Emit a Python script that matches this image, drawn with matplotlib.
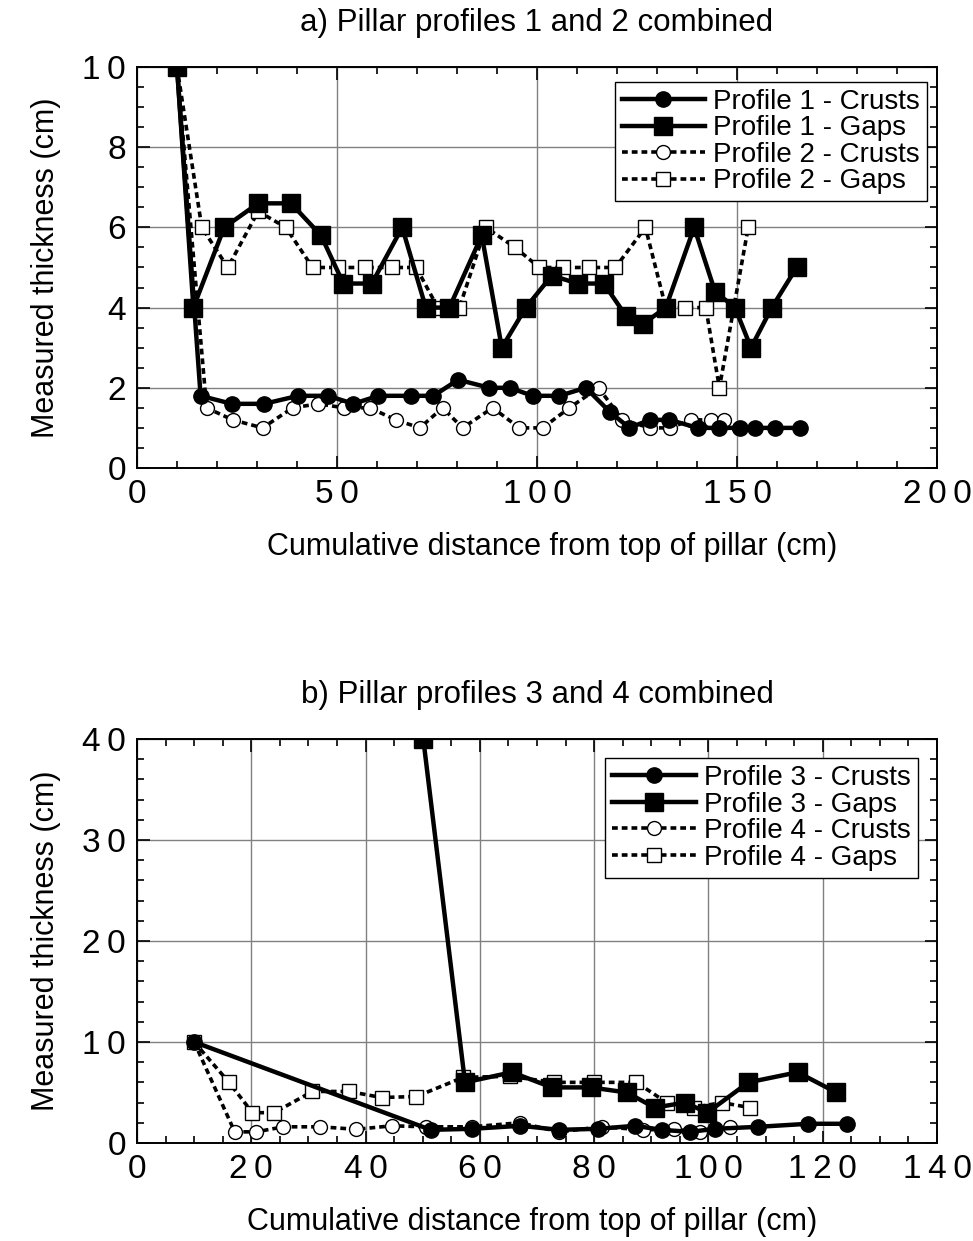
import matplotlib
matplotlib.use("Agg")
import matplotlib.pyplot as plt
from matplotlib.ticker import MultipleLocator, FuncFormatter

plt.rcParams['font.family'] = ['Liberation Sans', 'DejaVu Sans']

# ---- a) profiles 1 and 2
p1_crust_x = [10, 15.9, 23.7, 31.8, 40.3, 47.8, 54.1, 60.3, 68.4, 74.1, 80.3, 88.1, 93.2,
              98.9, 105.6, 112.2, 118.2, 123.1, 128.2, 133.1, 140.2, 145.6, 150.7, 154.5, 159.5, 165.7]
p1_crust_y = [10, 1.8, 1.6, 1.6, 1.8, 1.8, 1.6, 1.8, 1.8, 1.8, 2.2, 2.0, 2.0,
              1.8, 1.8, 2.0, 1.4, 1.0, 1.2, 1.2, 1.0, 1.0, 1.0, 1.0, 1.0, 1.0]
p1_gap_x = [10, 14.1, 21.8, 30.3, 38.5, 46.0, 51.6, 58.7, 66.3, 72.2, 78.1, 86.2, 91.2,
            97.2, 103.7, 110.2, 116.7, 122.2, 126.6, 132.2, 139.3, 144.5, 149.5, 153.5, 158.7, 164.9]
p1_gap_y = [10, 4.0, 6.0, 6.6, 6.6, 5.8, 4.6, 4.6, 6.0, 4.0, 4.0, 5.8, 3.0,
            4.0, 4.8, 4.6, 4.6, 3.8, 3.6, 4.0, 6.0, 4.4, 4.0, 3.0, 4.0, 5.0]
p2_crust_x = [10, 17.4, 23.9, 31.4, 38.9, 45.3, 51.8, 58.2, 64.7, 70.7, 76.4, 81.4, 88.9,
              95.6, 101.4, 108.1, 115.4, 121.3, 128.2, 133.2, 138.5, 143.5, 146.8, 150.5]
p2_crust_y = [10, 1.5, 1.2, 1.0, 1.5, 1.6, 1.5, 1.5, 1.2, 1.0, 1.5, 1.0, 1.5,
              1.0, 1.0, 1.5, 2.0, 1.2, 1.0, 1.0, 1.2, 1.2, 1.2, 1.0]
p2_gap_x = [10, 16.2, 22.7, 30.3, 37.2, 43.9, 50.3, 57.0, 63.7, 69.8, 75.2, 80.6, 87.2,
            94.5, 100.6, 106.4, 113.1, 119.6, 127.1, 132.2, 137.0, 142.2, 145.6, 152.8]
p2_gap_y = [10, 6.0, 5.0, 6.4, 6.0, 5.0, 5.0, 5.0, 5.0, 5.0, 4.0, 4.0, 6.0,
            5.5, 5.0, 5.0, 5.0, 5.0, 6.0, 4.0, 4.0, 4.0, 2.0, 6.0]

# ---- b) profiles 3 and 4
p3_crust_x = [10, 51.4, 58.6, 67.1, 73.9, 80.6, 87.2, 91.8, 96.8, 101.2, 108.7, 117.5, 124.2]
p3_crust_y = [10, 1.3, 1.4, 1.7, 1.3, 1.4, 1.7, 1.3, 1.1, 1.4, 1.6, 1.9, 1.9]
p3_gap_x = [50.1, 57.4, 65.6, 72.6, 79.4, 85.7, 90.6, 95.9, 99.8, 107.0, 115.6, 122.4]
p3_gap_y = [40, 6.0, 7.0, 5.5, 5.5, 5.0, 3.5, 4.0, 3.0, 6.0, 7.0, 5.0]
p4_crust_x = [10, 17.1, 20.9, 25.6, 32.1, 38.4, 44.6, 50.6, 58.6, 67.0, 73.9, 81.3, 88.6,
              94.0, 98.5, 103.8]
p4_crust_y = [10, 1.1, 1.1, 1.6, 1.6, 1.35, 1.7, 1.6, 1.6, 2.0, 1.1, 1.6, 1.3,
              1.35, 1.1, 1.6]
p4_gap_x = [10, 16.1, 20.2, 24.0, 30.7, 37.1, 42.8, 48.9, 57.1, 65.2, 73.0, 80.0, 87.4,
            92.7, 97.4, 102.3, 107.3]
p4_gap_y = [10, 6.0, 3.0, 3.0, 5.1, 5.1, 4.5, 4.6, 6.5, 6.6, 6.0, 6.0, 6.0,
            4.0, 3.5, 4.0, 3.5]

XLABEL = "Cumulative distance from top of pillar (cm)"
YLABEL = "Measured thickness (cm)"

dash = (0, (1.6, 1.1))


def spaced(v, pos):
    # old Mac-style wide spacing between digits
    return "\u2009".join(str(int(round(v))))


def draw(ax, crust_a, gap_a, crust_b, gap_b, names):
    ax.plot(*crust_a, color='k', lw=3.2, marker='o', ms=11, label=names[0], zorder=4)
    ax.plot(*gap_a, color='k', lw=3.2, marker='s', ms=12.5, label=names[1], zorder=4)
    ax.plot(*crust_b, color='k', lw=2.6, ls=dash, marker='o', ms=10, mfc='white',
            mec='k', mew=1, label=names[2], zorder=3)
    ax.plot(*gap_b, color='k', lw=2.6, ls=dash, marker='s', ms=10, mfc='white',
            mec='k', mew=1, label=names[3], zorder=3)


def style(ax, xmax, xmaj, xmin, ymax, ymaj, ymin, title, leg_anchor, xlab_x):
    ax.set_xlim(0, xmax)
    ax.set_ylim(0, ymax)
    ax.xaxis.set_major_locator(MultipleLocator(xmaj))
    ax.xaxis.set_minor_locator(MultipleLocator(xmin))
    ax.yaxis.set_major_locator(MultipleLocator(ymaj))
    ax.yaxis.set_minor_locator(MultipleLocator(ymin))
    ax.xaxis.set_major_formatter(FuncFormatter(spaced))
    ax.yaxis.set_major_formatter(FuncFormatter(spaced))
    ax.grid(True, which='major', color='#808080', lw=1, zorder=0)
    ax.tick_params(which='both', direction='in', top=True, right=True, width=1.2)
    ax.tick_params(which='major', length=9, labelsize=24, pad=8)
    ax.tick_params(which='minor', length=5)
    for s in ax.spines.values():
        s.set_linewidth(1.4)
    ax.set_xlabel(XLABEL, fontsize=22, labelpad=16)
    ax.xaxis.label.set_x(xlab_x)
    ax.set_ylabel(YLABEL, fontsize=22, labelpad=15)
    ax.set_title(title, fontsize=22.5, pad=26)
    leg = ax.legend(loc='upper right', bbox_to_anchor=leg_anchor, borderaxespad=0,
                    fontsize=20, handlelength=3.0, handletextpad=0.3,
                    labelspacing=0.02, borderpad=0.25, fancybox=False, framealpha=1,
                    edgecolor='k')
    leg.get_frame().set_linewidth(1)
    leg.set_zorder(6)


fig = plt.figure(figsize=(9.73, 12.41), dpi=100)
ax1 = fig.add_axes([0.1408, 0.6229, 0.8222, 0.3231])
ax2 = fig.add_axes([0.1408, 0.079, 0.8222, 0.3255])

draw(ax1, (p1_crust_x, p1_crust_y), (p1_gap_x, p1_gap_y),
     (p2_crust_x, p2_crust_y), (p2_gap_x, p2_gap_y),
     ["Profile 1 - Crusts", "Profile 1 - Gaps", "Profile 2 - Crusts", "Profile 2 - Gaps"])
style(ax1, 200, 50, 10, 10, 2, 0.5, "a) Pillar profiles 1 and 2 combined", (0.9875, 0.963), 0.519)

draw(ax2, (p3_crust_x, p3_crust_y), (p3_gap_x, p3_gap_y),
     (p4_crust_x, p4_crust_y), (p4_gap_x, p4_gap_y),
     ["Profile 3 - Crusts", "Profile 3 - Gaps", "Profile 4 - Crusts", "Profile 4 - Gaps"])
style(ax2, 140, 20, 5, 40, 10, 2, "b) Pillar profiles 3 and 4 combined", (0.976, 0.953), 0.494)

fig.savefig("out.png", dpi=100)
